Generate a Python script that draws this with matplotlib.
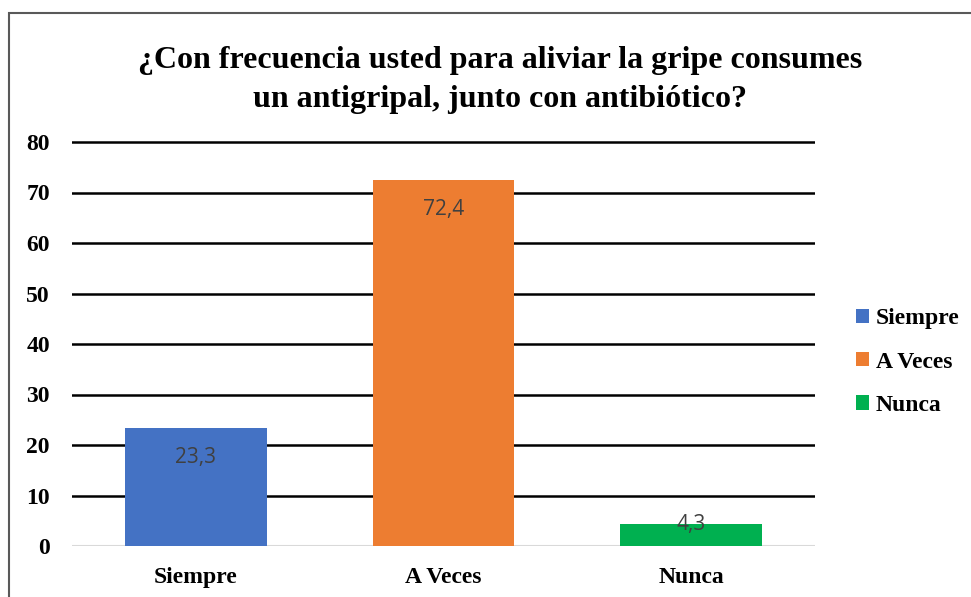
import matplotlib
matplotlib.use("Agg")
import matplotlib.pyplot as plt
from matplotlib.patches import Rectangle, Patch

categories = ["Siempre", "A Veces", "Nunca"]
values = [23.3, 72.4, 4.3]
value_labels = ["23,3", "72,4", "4,3"]
colors = ["#4472C4", "#ED7D31", "#00B050"]
yticks = [0, 10, 20, 30, 40, 50, 60, 70, 80]
title = "¿Con frecuencia usted para aliviar la gripe consumes\nun antigripal, junto con antibiótico?"

W, H = 971, 597
fig = plt.figure(figsize=(W / 100, H / 100), dpi=100)
fig.patch.set_facecolor("white")

# outer chart border
fig.add_artist(Rectangle((9 / W, -0.1), 1.2, (H - 13) / H + 0.1, transform=fig.transFigure,
                         fill=False, edgecolor="#595959", linewidth=1.5))

ymax = 80.5
ax = fig.add_axes([72 / W, 1 - 546 / H, (815 - 72) / W, (546 - 142) / H * ymax / 80])
ax.set_ylim(0, ymax)
ax.set_xlim(-0.5, 2.5)

serif = "Liberation Serif"
for y in yticks[1:]:
    ax.axhline(y, color="black", linewidth=1.8, zorder=1)
ax.axhline(0, color="#D9D9D9", linewidth=1.5, zorder=1)

x = list(range(len(categories)))
bars = ax.bar(x, values, width=0.573, color=colors, zorder=2)

for xi, v, lab in zip(x, values, value_labels):
    off = -21 if v > 10 else 0
    ax.annotate(lab, (xi, v), xytext=(0, off), textcoords="offset points",
                ha="center", va="center", fontsize=15, color="#404040",
                family="Open Sans", zorder=3)

for s in ax.spines.values():
    s.set_visible(False)
ax.set_yticks(yticks)
ax.set_yticklabels([str(t) for t in yticks], fontfamily=serif, fontweight="bold", fontsize=17)
ax.set_xticks(x)
ax.set_xticklabels(categories, fontfamily=serif, fontweight="bold", fontsize=17)
ax.tick_params(axis="both", length=0)
ax.tick_params(axis="y", pad=16)
ax.tick_params(axis="x", pad=15)

fig.text(500 / W, 1 - 80 / H, title, ha="center", va="center", fontfamily=serif,
         fontweight="bold", fontsize=23, linespacing=1.45)

handles = [Patch(facecolor=c, edgecolor="none") for c in colors]
leg = fig.legend(handles, categories, loc="center left", bbox_to_anchor=(856 / W, 1 - 362 / H),
                 frameon=False, prop={"family": serif, "weight": "bold", "size": 17},
                 borderpad=0, borderaxespad=0,
                 handlelength=0.55, handleheight=0.55, handletextpad=0.3, labelspacing=0.95)

fig.savefig("out.png", dpi=100)
